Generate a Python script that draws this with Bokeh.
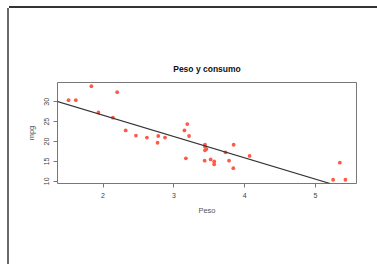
import numpy as np
from bokeh.plotting import figure
from bokeh.models import Range1d, FixedTicker, Slope, ColumnDataSource
from bokeh.embed import file_html
from bokeh.resources import INLINE

# mtcars: weight (1000 lbs) and miles per gallon
peso = [2.620, 2.875, 2.320, 3.215, 3.440, 3.460, 3.570, 3.190, 3.150, 3.440,
        3.440, 4.070, 3.730, 3.780, 5.250, 5.424, 5.345, 2.200, 1.615, 1.835,
        2.465, 3.520, 3.435, 3.840, 3.845, 1.935, 2.140, 1.513, 3.170, 2.770,
        3.570, 2.780]
mpg = [21.0, 21.0, 22.8, 21.4, 18.7, 18.1, 14.3, 24.4, 22.8, 19.2,
       17.8, 16.4, 17.3, 15.2, 10.4, 10.4, 14.7, 32.4, 30.4, 33.9,
       21.5, 15.5, 15.2, 13.3, 19.2, 27.3, 26.0, 30.4, 15.8, 19.7,
       15.0, 21.4]
x_ticks = [2, 3, 4, 5]
y_ticks = [10, 15, 20, 25, 30]

# least-squares fit (abline(lm(mpg ~ wt)))
slope, intercept = np.polyfit(peso, mpg, 1)

def padded(vals):
    lo, hi = min(vals), max(vals)
    d = (hi - lo) * 0.04
    return lo - d, hi + d

FONT = "Liberation Sans"

p = figure(width=368, height=256, output_backend="svg", toolbar_location=None,
           x_range=Range1d(*padded(peso)), y_range=Range1d(*padded(mpg)),
           min_border_left=48, min_border_right=21, min_border_top=74,
           min_border_bottom=81)
# page frame lines (left and top) as in the screenshot
p.styles = {"margin-left": "9px", "margin-top": "8px",
            "box-shadow": "-2px 0 0 0 #6a6a6a, 0 -2px 0 0 #333333"}

p.title.text = "Peso y consumo"
p.title.align = "center"
p.title.text_font = FONT
p.title.text_font_size = "8.5px"
p.title.text_font_style = "bold"
p.title.text_color = "#111111"
p.title.standoff = 17

p.grid.visible = False
p.outline_line_color = "#777777"
p.outline_line_width = 1
p.background_fill_color = "white"
p.border_fill_color = "white"

for ax in (p.xaxis[0], p.yaxis[0]):
    ax.axis_line_color = None
    ax.major_tick_line_color = "#777777"
    ax.major_tick_out = 4
    ax.major_tick_in = 0
    ax.minor_tick_line_color = None
    ax.major_label_text_font = FONT
    ax.major_label_text_font_size = "7px"
    ax.major_label_text_color = "#444444"
    ax.axis_label_text_font = FONT
    ax.axis_label_text_font_size = "7.5px"
    ax.axis_label_text_font_style = "normal"
    ax.axis_label_text_color = "#555555"

p.xaxis.ticker = FixedTicker(ticks=x_ticks)
p.yaxis.ticker = FixedTicker(ticks=y_ticks)
p.xaxis.axis_label = "Peso"
p.yaxis.axis_label = "mpg"
p.yaxis.major_label_orientation = "vertical"
p.xaxis.major_label_standoff = 5
p.xaxis.axis_label_standoff = 5
p.yaxis.major_label_standoff = 4
p.yaxis.axis_label_standoff = 6

src = ColumnDataSource(dict(peso=peso, mpg=mpg))
p.scatter("peso", "mpg", source=src, size=3.8, fill_color="#ff5a45",
          line_color=None)

p.add_layout(Slope(gradient=slope, y_intercept=intercept,
                   line_color="#333333", line_width=1.2))

open("out.html", "w").write(file_html(p, INLINE))
